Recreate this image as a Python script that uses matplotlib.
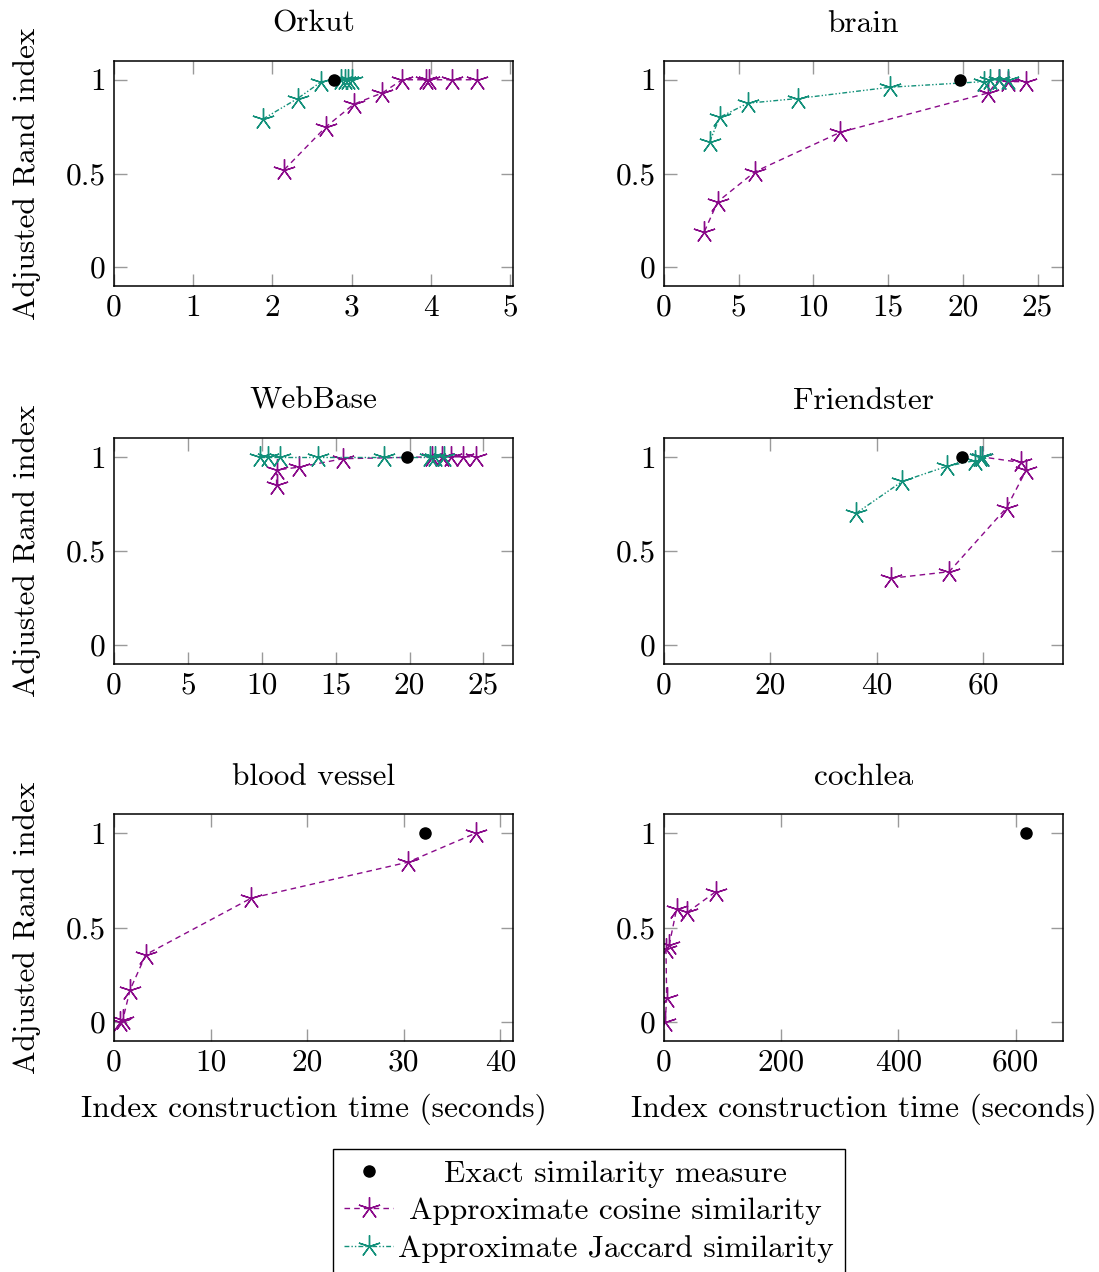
import numpy as np
import matplotlib
matplotlib.use("Agg")
import matplotlib.pyplot as plt
from matplotlib.lines import Line2D

plt.rcParams['font.family'] = ['cmr10', 'DejaVu Serif']
plt.rcParams['axes.formatter.use_mathtext'] = True
FS = 22.6
plt.rcParams['font.size'] = FS

# --- data ---
titles = ["Orkut", "brain", "WebBase", "Friendster", "blood vessel", "cochlea"]

exact_x = [2.78, 19.8, 19.8, 56.0, 32.2, 618.0]
exact_y = [1.0, 1.0, 1.0, 1.0, 1.0, 1.0]

cos_x = [
    [2.15, 2.68, 3.03, 3.39, 3.64, 3.94, 3.98, 4.27, 4.59],
    [2.7, 3.6, 6.1, 11.8, 21.7, 22.4, 23.0, 24.2],
    [11.0, 11.0, 12.5, 15.5, 21.5, 22.2, 22.8, 23.6, 24.5],
    [42.6, 53.6, 64.4, 68.1, 67.1, 59.7],
    [0.6, 0.9, 1.66, 3.3, 14.2, 30.4, 37.5],
    [2.0, 4.5, 3.4, 9.1, 21.6, 39.8, 88.6],
]
cos_y = [
    [0.52, 0.75, 0.87, 0.93, 1.0, 1.0, 1.0, 1.0, 1.0],
    [0.19, 0.35, 0.51, 0.72, 0.93, 1.0, 0.99, 0.99],
    [0.85, 0.93, 0.945, 0.99, 1.0, 1.0, 1.0, 1.0, 1.0],
    [0.355, 0.39, 0.73, 0.93, 0.97, 1.0],
    [0.0, 0.01, 0.17, 0.357, 0.655, 0.845, 1.0],
    [0.0, 0.125, 0.384, 0.41, 0.60, 0.58, 0.69],
]

jac_x = [
    [1.88, 2.32, 2.62, 2.87, 2.92, 2.96, 3.0],
    [3.06, 3.73, 5.62, 8.96, 15.1, 21.4, 21.8, 22.4, 23.0],
    [9.9, 10.4, 11.2, 13.8, 18.3, 21.4, 21.7, 22.3],
    [36.1, 44.8, 53.2, 58.4, 59.4, 59.7],
    [],
    [],
]
jac_y = [
    [0.79, 0.90, 0.99, 1.0, 1.0, 1.0, 1.0],
    [0.67, 0.80, 0.875, 0.90, 0.96, 0.99, 1.0, 1.0, 1.0],
    [1.0, 1.0, 1.0, 1.0, 1.0, 1.0, 1.0, 1.0],
    [0.70, 0.87, 0.95, 0.98, 1.0, 1.0],
    [],
    [],
]

x_max = [5.04, 26.7, 27.0, 75.0, 41.3, 681.0]
x_ticks = [
    [0, 1, 2, 3, 4, 5],
    [0, 5, 10, 15, 20, 25],
    [0, 5, 10, 15, 20, 25],
    [0, 20, 40, 60],
    [0, 10, 20, 30, 40],
    [0, 200, 400, 600],
]
y_ticks = [0, 0.5, 1]
y_tick_labels = ["0", "0.5", "1"]

purple = "#8a0a8a"
teal = "#12907a"
star = (5, 2, 0)
cos_dash = (0, (4, 3))
jac_dash = (0, (3.5, 1.5, 1, 1.5, 1, 1.5))

W, H = 1099, 1272
fig = plt.figure(figsize=(W / 100, H / 100), dpi=100)

cols = [(114, 513), (664, 1063)]
rows = [(61, 286), (438, 664), (814, 1041)]

for i in range(6):
    r, c = divmod(i, 2)
    x0, x1 = cols[c]
    y0, y1 = rows[r]
    ax = fig.add_axes([x0 / W, 1 - y1 / H, (x1 - x0) / W, (y1 - y0) / H])

    ax.plot(cos_x[i], cos_y[i], color=purple, ls=cos_dash, lw=1.0,
            marker=star, ms=16, mew=1.0)
    if jac_x[i]:
        ax.plot(jac_x[i], jac_y[i], color=teal, ls=jac_dash, lw=1.0,
                marker=star, ms=16, mew=1.0)
    ax.plot([exact_x[i]], [exact_y[i]], 'o', color='black', ms=8, zorder=5)

    ax.set_xlim(0, x_max[i])
    ax.set_ylim(-0.1, 1.1)
    ax.set_xticks(x_ticks[i])
    ax.set_xticklabels([str(t) for t in x_ticks[i]])
    ax.set_yticks(y_ticks)
    ax.set_yticklabels(y_tick_labels)
    ax.tick_params(direction='in', length=9, width=1.0, color='#9a9a9a',
                   top=True, right=True, labelsize=FS, pad=6)
    for sp in ax.spines.values():
        sp.set_linewidth(1.1)
    ax.set_title(titles[i], fontsize=FS, pad=21)
    if c == 0:
        ax.set_ylabel("Adjusted Rand index", fontsize=FS, labelpad=18)
    if r == 2:
        ax.set_xlabel("Index construction time (seconds)", fontsize=FS, labelpad=12)

handles = [
    Line2D([], [], ls='none', marker='o', color='black', ms=8),
    Line2D([], [], color=purple, ls=cos_dash, lw=1.0, marker=star, ms=16, mew=1.0),
    Line2D([], [], color=teal, ls=jac_dash, lw=1.0, marker=star, ms=16, mew=1.0),
]
labels = ["Exact similarity measure", "Approximate cosine similarity",
          "Approximate Jaccard similarity"]
pad_tt = 0.16
leg = fig.legend(handles, labels, loc='upper center', bbox_to_anchor=(589 / W, 1 - 1149 / H),
                 fancybox=False, edgecolor='black', framealpha=1, fontsize=FS,
                 handlelength=1.55, handletextpad=pad_tt, labelspacing=0.3,
                 borderpad=0.35, borderaxespad=0)

# centre the legend texts in their column, like pgfplots does
renderer = fig.canvas.get_renderer()
widths = [t.get_window_extent(renderer).width for t in leg.get_texts()]
wmax = max(widths)
base_sep = pad_tt * FS
items = [it for col in leg._legend_handle_box.get_children() for it in col.get_children()]
for it, w in zip(items, widths):
    it.sep = base_sep + (wmax - w) / 2 * 72 / fig.dpi

fig.savefig("out.png", dpi=100)
